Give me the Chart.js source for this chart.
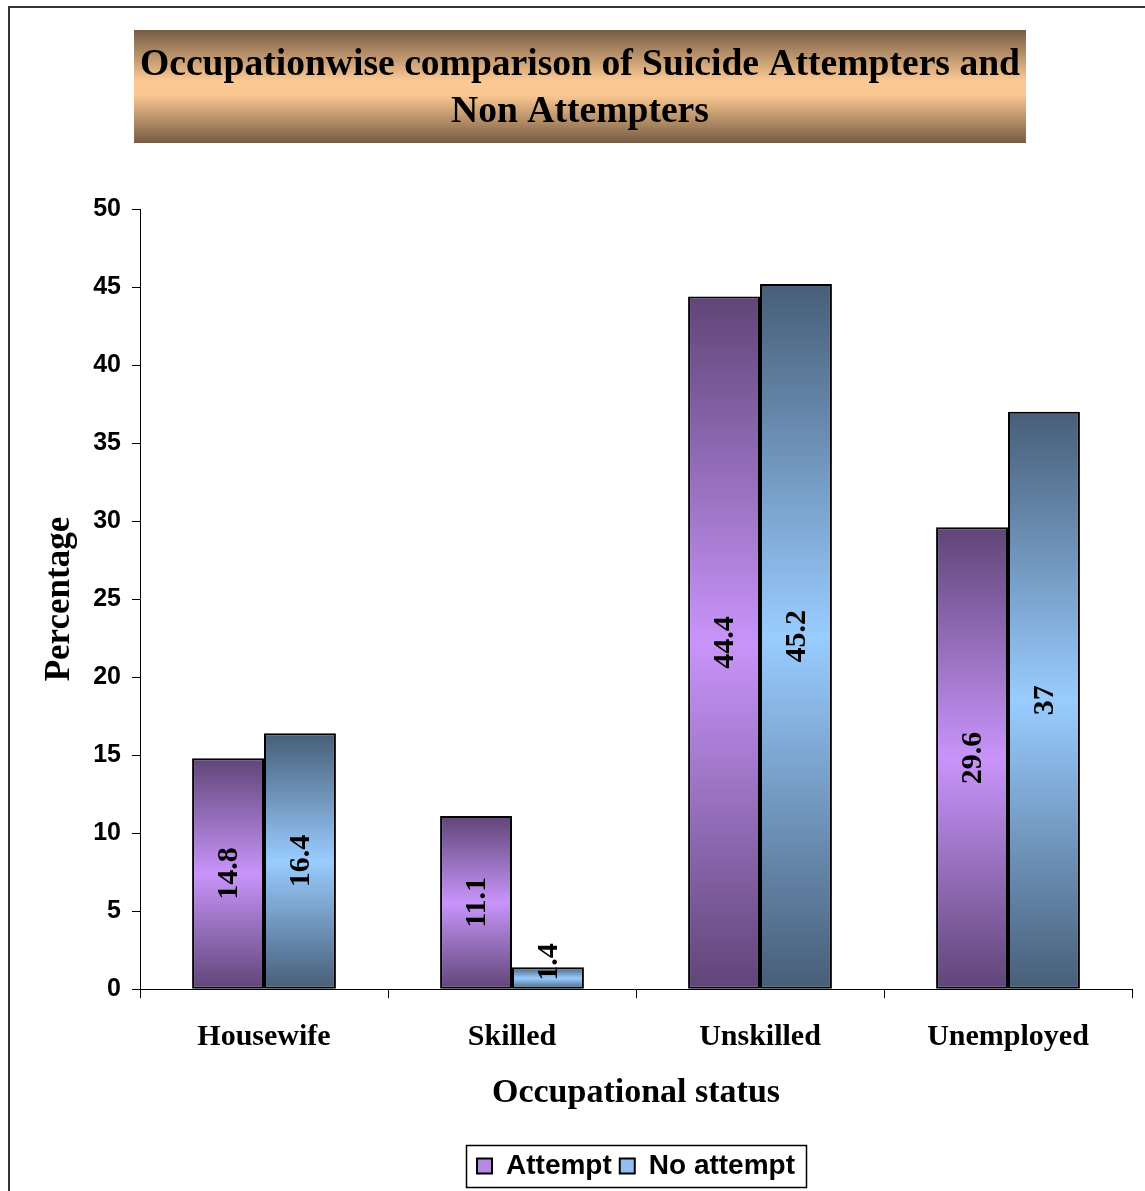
<!DOCTYPE html>
<html>
<head>
<meta charset="utf-8">
<script src="https://cdn.jsdelivr.net/npm/chart.js@4.4.1/dist/chart.umd.min.js"></script>
<style>
  html, body { margin: 0; padding: 0; background: #fff; }
  #wrap { width: 1145px; height: 1191px; }
</style>
</head>
<body>
<div id="wrap"><canvas id="chart" width="1145" height="1191"></canvas></div>
<script>
// ── data ──
const categories = ['Housewife', 'Skilled', 'Unskilled', 'Unemployed'];
const attemptValues = [14.8, 11.1, 44.4, 29.6];
const noAttemptValues = [16.4, 1.4, 45.2, 37];
const seriesNames = ['Attempt', 'No attempt'];
const titleLines = ['Occupationwise comparison of Suicide Attempters and', 'Non Attempters'];
const yMin = 0, yMax = 50, yStep = 5;

const SERIF = '"Liberation Serif", "Times New Roman", serif';
const SANS = '"Liberation Sans", Arial, sans-serif';

// vertical gradient per bar: dark at the ends, light in the middle
function barGradient(dark, light) {
  return function (ctx) {
    const chart = ctx.chart;
    if (!chart.chartArea || ctx.type !== 'data') return light;
    const y = chart.scales.y;
    const top = y.getPixelForValue(ctx.raw);
    const base = y.getPixelForValue(0);
    const g = chart.ctx.createLinearGradient(0, top, 0, base);
    g.addColorStop(0, dark);
    g.addColorStop(0.5, light);
    g.addColorStop(1, dark);
    return g;
  };
}

// ── background, outer frame and title box ──
const framePlugin = {
  id: 'frame',
  beforeDraw(chart) {
    const c = chart.ctx;
    c.save();
    c.fillStyle = '#fff';
    c.fillRect(0, 0, chart.width, chart.height);
    c.strokeStyle = '#333';
    c.lineWidth = 2;
    c.strokeRect(9, 7, chart.width + 20, chart.height + 20);
    const g = c.createLinearGradient(0, 30, 0, 143);
    g.addColorStop(0, '#765b43');
    g.addColorStop(0.45, '#fcc994');
    g.addColorStop(0.58, '#f8c690');
    g.addColorStop(1, '#765b43');
    c.fillStyle = g;
    c.fillRect(134, 30, 892, 113);
    c.restore();
  },
  afterDraw(chart) {
    // frame round the legend
    const boxes = chart.legend && chart.legend.legendHitBoxes;
    if (!boxes || !boxes.length) return;
    const l = Math.min(...boxes.map(b => b.left));
    const r = Math.max(...boxes.map(b => b.left + b.width));
    const t = Math.min(...boxes.map(b => b.top));
    const b = Math.max(...boxes.map(b => b.top + b.height));
    const c = chart.ctx;
    c.save();
    c.strokeStyle = '#000';
    c.lineWidth = 1.5;
    c.strokeRect(Math.round(l - 11) + 0.5, Math.round(t - 7) + 0.5, Math.round(r - l + 22), Math.round(b - t + 14));
    c.restore();
  }
};

// ── rotated value labels inside the bars ──
const valueLabels = {
  id: 'valueLabels',
  afterDatasetsDraw(chart) {
    const c = chart.ctx;
    c.save();
    c.font = 'bold 30px ' + SERIF;
    c.fillStyle = '#000';
    c.textAlign = 'center';
    c.textBaseline = 'middle';
    chart.data.datasets.forEach((ds, di) => {
      chart.getDatasetMeta(di).data.forEach((bar, i) => {
        const txt = String(ds.data[i]);
        const w = c.measureText(txt).width;
        const mid = (bar.y + bar.base) / 2;
        const y = Math.min(mid, bar.base - w / 2 - 8);
        c.save();
        c.translate(bar.x, y);
        c.rotate(-Math.PI / 2);
        c.fillText(txt, 0, 1);
        c.restore();
      });
    });
    c.restore();
  }
};

new Chart(document.getElementById('chart'), {
  type: 'bar',
  data: {
    labels: categories,
    datasets: [
      {
        label: seriesNames[0],
        data: attemptValues,
        backgroundColor: barGradient('#5f4577', '#c894fa'),
        borderColor: '#000',
        borderWidth: 2,
        borderSkipped: false,
      },
      {
        label: seriesNames[1],
        data: noAttemptValues,
        backgroundColor: barGradient('#475e78', '#99ccff'),
        borderColor: '#000',
        borderWidth: 2,
        borderSkipped: false,
      },
    ],
  },
  options: {
    responsive: false,
    animation: false,
    devicePixelRatio: 1,
    layout: { padding: { left: 28, right: 13, top: 0, bottom: 1 } },
    datasets: { bar: { barPercentage: 1, categoryPercentage: 0.58 } },
    plugins: {
      title: {
        display: true,
        text: titleLines,
        color: '#000',
        font: { family: SERIF, size: 37.6, weight: 'bold', lineHeight: 1.25 },
        padding: { top: 42, bottom: 73 },
      },
      legend: {
        position: 'bottom',
        fullSize: false,
        labels: {
          color: '#000',
          font: { family: SANS, size: 28, weight: 'bold' },
          boxWidth: 15,
          boxHeight: 15,
          padding: 8,
          generateLabels(chart) {
            const fills = ['#b48ae2', '#8fc0f0'];
            return chart.data.datasets.map((ds, i) => ({
              text: ds.label,
              fillStyle: fills[i],
              strokeStyle: '#000',
              lineWidth: 2,
              datasetIndex: i,
            }));
          },
        },
      },
      tooltip: { enabled: false },
    },
    scales: {
      x: {
        grid: { offset: true, drawOnChartArea: false, drawTicks: true, tickLength: 9, color: '#000', tickColor: '#000' },
        border: { display: true, color: '#000', width: 1 },
        ticks: { color: '#000', font: { family: SERIF, size: 30, weight: 'bold' }, padding: 21 },
        title: {
          display: true,
          text: 'Occupational status',
          color: '#000',
          font: { family: SERIF, size: 34, weight: 'bold' },
          padding: { top: -3, bottom: 30 },
        },
      },
      y: {
        min: yMin,
        max: yMax,
        ticks: { stepSize: yStep, color: '#000', font: { family: SANS, size: 25, weight: 'bold' }, padding: 11 },
        grid: { drawOnChartArea: false, drawTicks: true, tickLength: 8, tickColor: '#000' },
        border: { display: true, color: '#000', width: 1 },
        title: {
          display: true,
          text: 'Percentage',
          color: '#000',
          font: { family: SERIF, size: 35, weight: 'bold' },
          padding: { top: 11, bottom: 10 },
        },
        afterFit(scale) { scale.width = 112; },
      },
    },
  },
  plugins: [framePlugin, valueLabels],
});
</script>
</body>
</html>
